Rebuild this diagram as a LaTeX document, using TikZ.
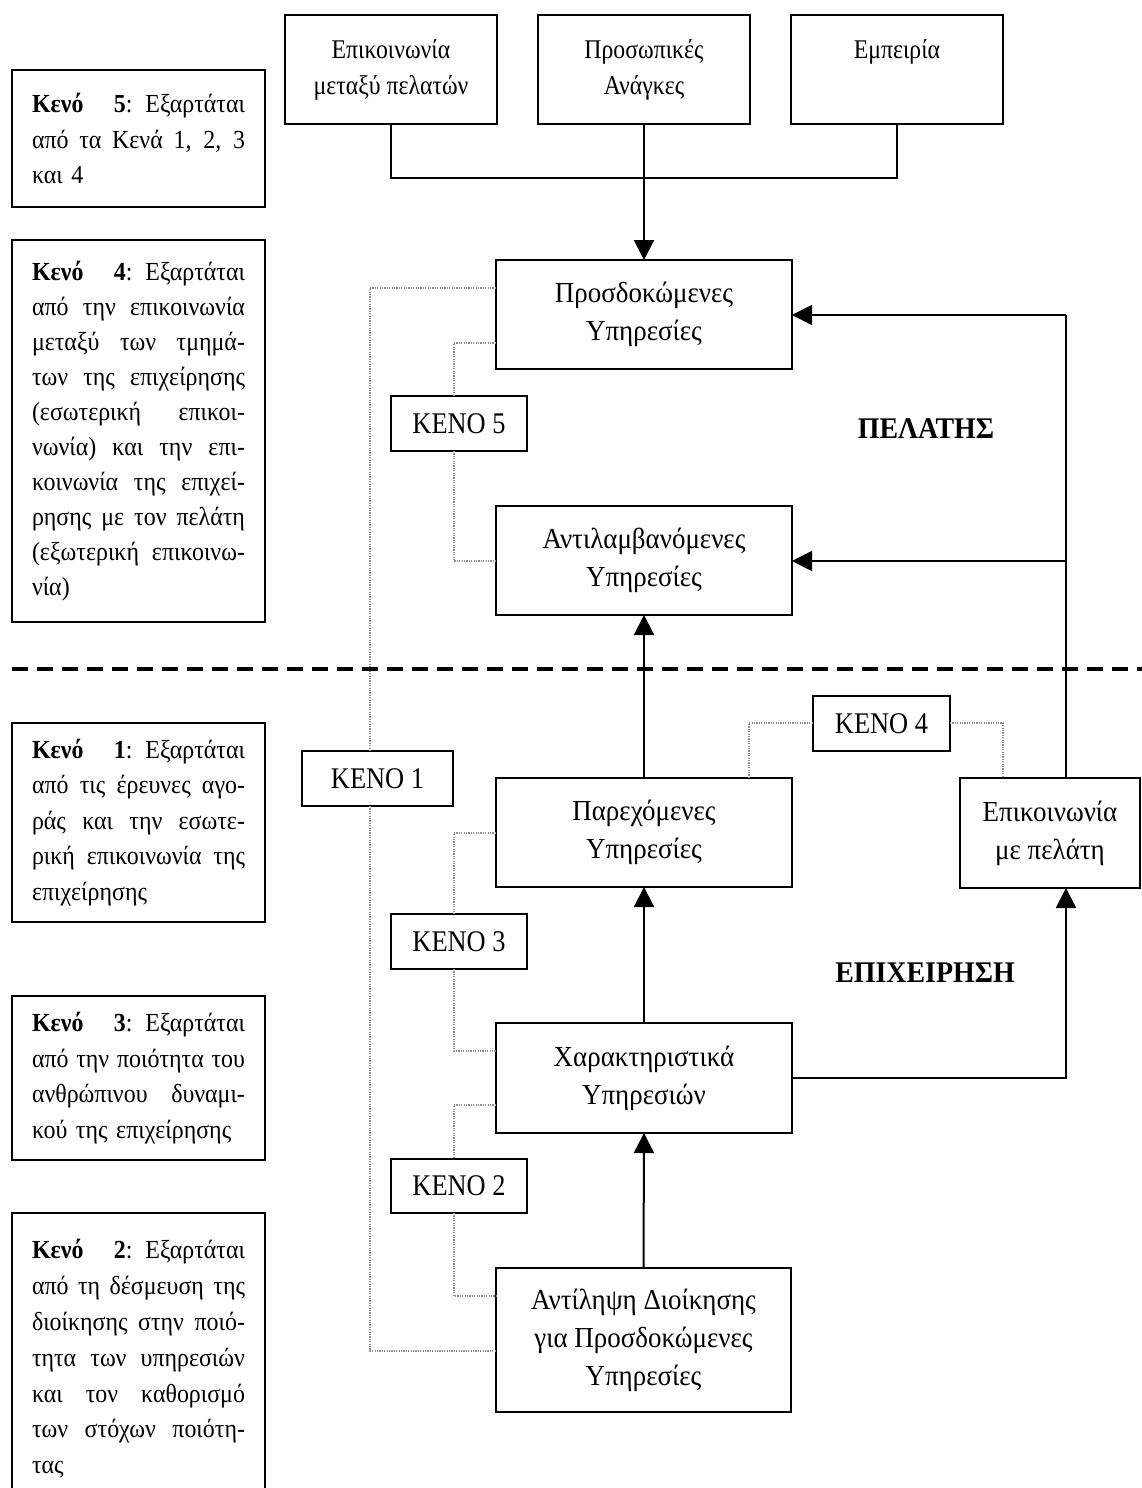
\documentclass[tikz,border=0pt]{standalone}
\usepackage{fontspec}
\setmainfont{Liberation Serif}[FakeStretch=0.88]
\newfontfamily\leftfont{Liberation Serif}[FakeStretch=0.92]
\newfontfamily\midfont{Liberation Serif}[FakeStretch=0.93]
\usetikzlibrary{arrows.meta}
\newcommand\jl[1]{\makebox[213pt][s]{\spaceskip=0.25em plus 1fil minus 0.08em\relax #1}}
\begin{document}
\begin{tikzpicture}[x=1pt,y=-1pt,
  every node/.style={inner sep=0pt,outer sep=0pt},
  boxbase/.style={draw,line width=2pt,fill=white,anchor=north west,align=center},
  topbox/.style={boxbase,minimum width=212pt,minimum height=109pt,font=\fontsize{27}{36}\selectfont},
  midbox/.style={boxbase,font=\midfont\fontsize{29}{38}\selectfont},
  kbox/.style={boxbase,minimum width=136pt,minimum height=55pt,font=\fontsize{30}{36}\selectfont},
  leftbox/.style={draw,line width=2pt,fill=white,anchor=north west,minimum width=253pt,text width=213pt,align=left,font=\leftfont\fontsize{26}{35.5}\selectfont},
  conn/.style={line width=2pt},
  arr/.style={line width=2pt,-{Triangle[length=20pt,width=20pt]}},
  dotl/.style={line width=1.6pt,black!45,dash pattern=on 1.2pt off 1.2pt},
  sepline/.style={line width=4pt,dash pattern=on 16pt off 9pt},
  region/.style={font=\midfont\fontsize{30}{36}\selectfont\bfseries}]
\useasboundingbox (0,0) rectangle (1142,1488);
\clip (0,0) rectangle (1142,1488);
\fill[white] (0,0) rectangle (1142,1488);

% top boxes
\node[topbox] (b1) at (285,15) {Επικοινωνία\\μεταξύ πελατών};
\node[topbox] (b2) at (538,15) {Προσωπικές\\Ανάγκες};
\node[topbox] (b3) at (791,15) {Εμπειρία\\\phantom{Ανάγκες}};

% middle boxes
\node[midbox,minimum width=296pt,minimum height=109pt] (py) at (496,260) {Προσδοκώμενες\\Υπηρεσίες};
\node[midbox,minimum width=296pt,minimum height=109pt] (ay) at (496,506) {Αντιλαμβανόμενες\\Υπηρεσίες};
\node[midbox,minimum width=296pt,minimum height=109pt] (pay) at (496,778) {Παρεχόμενες\\Υπηρεσίες};
\node[midbox,minimum width=180pt,minimum height=110pt] (ep) at (960,778) {Επικοινωνία\\με πελάτη};
\node[midbox,minimum width=296pt,minimum height=110pt] (xy) at (496,1023) {Χαρακτηριστικά\\Υπηρεσιών};
\node[midbox,minimum width=295pt,minimum height=144pt] (ady) at (496,1268) {Αντίληψη Διοίκησης\\για Προσδοκώμενες\\Υπηρεσίες};

% gap boxes
\node[kbox] (k5) at (391,396) {ΚΕΝΟ 5};
\node[kbox,minimum width=151pt] (k1) at (302,751) {ΚΕΝΟ 1};
\node[kbox,minimum width=137pt] (k4) at (813,696) {ΚΕΝΟ 4};
\node[kbox] (k3) at (391,914) {ΚΕΝΟ 3};
\node[kbox,minimum height=54pt] (k2) at (391,1159) {ΚΕΝΟ 2};

% left explanation boxes
\node[leftbox,minimum height=137pt] (l5) at (12,70) {\jl{\textbf{Κενό 5}: Εξαρτάται}\\\jl{από τα Κενά 1, 2, 3}\\και 4};
\node[leftbox,minimum height=382pt,font=\leftfont\fontsize{26}{35}\selectfont] (l4) at (12,240) {\jl{\textbf{Κενό 4}: Εξαρτάται}\\\jl{από την επικοινωνία}\\\jl{μεταξύ των τμημά-}\\\jl{των της επιχείρησης}\\\jl{(εσωτερική επικοι-}\\\jl{νωνία) και την επι-}\\\jl{κοινωνία της επιχεί-}\\\jl{ρησης με τον πελάτη}\\\jl{(εξωτερική επικοινω-}\\νία)};
\node[leftbox,minimum height=199pt] (l1) at (12,723) {\jl{\textbf{Κενό 1}: Εξαρτάται}\\\jl{από τις έρευνες αγο-}\\\jl{ράς και την εσωτε-}\\\jl{ρική επικοινωνία της}\\επιχείρησης};
\node[leftbox,minimum height=164pt] (l3) at (12,996) {\jl{\textbf{Κενό 3}: Εξαρτάται}\\\jl{από την ποιότητα του}\\\jl{ανθρώπινου δυναμι-}\\κού της επιχείρησης};
\node[leftbox,minimum height=292pt,font=\leftfont\fontsize{26}{35.8}\selectfont] (l2) at (12,1213) {\jl{\textbf{Κενό 2}: Εξαρτάται}\\\jl{από τη δέσμευση της}\\\jl{διοίκησης στην ποιό-}\\\jl{τητα των υπηρεσιών}\\\jl{και τον καθορισμό}\\\jl{των στόχων ποιότη-}\\τας};

% region labels
\node[region] (pel) at (926,429) {ΠΕΛΑΤΗΣ};
\node[region] (epi) at (925,973) {ΕΠΙΧΕΙΡΗΣΗ};

% helper coordinates
\coordinate (r1) at (1066,315);
\coordinate (r2) at (1066,561);
\coordinate (o1) at (370,288);
\coordinate (o2) at (370,1351);
\coordinate (i5a) at (454,343);
\coordinate (i5b) at (454,561);
\coordinate (i3a) at (454,833);
\coordinate (i3b) at (454,1051);
\coordinate (i2a) at (454,1105);
\coordinate (i2b) at (454,1296);
\coordinate (c4l) at (749,723);
\coordinate (c4r) at (1003,723);
\coordinate (s1) at (12,669);
\coordinate (s2) at (1142,669);

% dotted gap connectors
\draw[dotl] (o1 -| py.west) -- (o1) -- (o1 |- k1.north);
\draw[dotl] (o1 |- k1.south) -- (o2) -- (o2 -| ady.west);
\draw[dotl] (i5a -| py.west) -- (i5a) -- (i5a |- k5.north);
\draw[dotl] (i5a |- k5.south) -- (i5b) -- (i5b -| ay.west);
\draw[dotl] (i3a -| pay.west) -- (i3a) -- (i3a |- k3.north);
\draw[dotl] (i3a |- k3.south) -- (i3b) -- (i3b -| xy.west);
\draw[dotl] (i2a -| xy.west) -- (i2a) -- (i2a |- k2.north);
\draw[dotl] (i2a |- k2.south) -- (i2b) -- (i2b -| ady.west);
\draw[dotl] (c4l |- pay.north) -- (c4l) -- (c4l -| k4.west);
\draw[dotl] (c4r -| k4.east) -- (c4r) -- (c4r |- ep.north);

% separator
\draw[sepline] (s1) -- (s2);

% solid connectors
\draw[conn] (b1.south) -- ++(0,54) -| (b3.south);
\draw[arr] (b2.south) -- (py.north);
\draw[arr] (pay.north) -- (ay.south);
\draw[arr] (xy.north) -- (pay.south);
\draw[arr] (ady.north) -- (xy.south);
\draw[arr] (xy.east) -| (r1 |- ep.south);
\draw[conn] (r1 |- ep.north) -- (r1);
\draw[arr] (r1) -- (r1 -| py.east);
\draw[arr] (r2) -- (r2 -| ay.east);
\end{tikzpicture}
\end{document}
